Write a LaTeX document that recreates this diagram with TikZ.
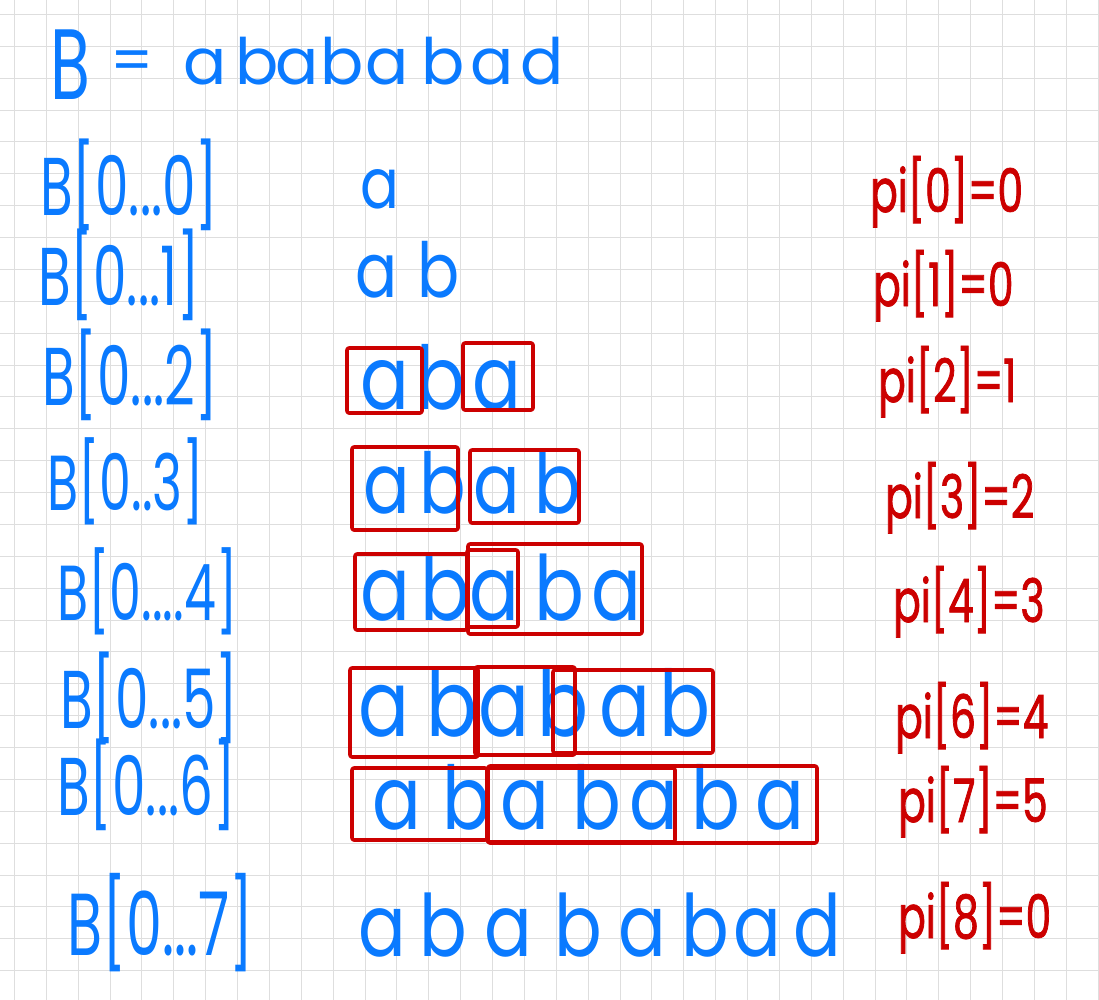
\documentclass[tikz,border=0pt]{standalone}
\usepackage{fontspec}
\newfontfamily\hand{Poppins}
\newfontfamily\handl[FakeStretch=0.82]{Poppins}
\newfontfamily\handn[FakeStretch=0.65]{Poppins}
\newfontfamily\handr[FakeStretch=0.68,FakeBold=1.2]{Poppins}
\definecolor{inkblue}{RGB}{10,122,255}
\definecolor{inkred}{RGB}{204,0,0}
\definecolor{gridc}{RGB}{222,222,222}
\begin{document}
\begin{tikzpicture}[x=1pt,y=-1pt,
  gridline/.style={draw=gridc,line width=1pt},
  lt/.style={anchor=base,inner sep=0pt,text=inkblue},
  lab/.style={anchor=base west,inner sep=0pt,text=inkblue},
  pil/.style={anchor=base west,inner sep=0pt,text=inkred,font=\handr\fontsize{60}{60}\selectfont},
  redbox/.style={draw=inkred,line width=3.6pt,line join=round,rounded corners=2pt}]
\useasboundingbox (0,0) rectangle (1099,1000);
\fill[white] (0,0) rectangle (1099,1000);
% grid
\foreach \i in {0,...,34} \draw[gridline] ({14.5+31.87*\i},0) -- ({14.5+31.87*\i},1000);
\foreach \i in {0,...,31} \draw[gridline] (0,{14.5+31.87*\i}) -- (1099,{14.5+31.87*\i});
% title
\node[lab,font=\handn\fontsize{100}{100}\selectfont,name=tB] at (50,100) {B};
\node[lab,font=\hand\fontsize{60}{60}\selectfont,name=teq] at (110,82) {=};
\foreach \x/\c [count=\k] in {205/a,257/b,297/a,342/b,387/a,443/b,492/a,542/d}
  \node[lt,font=\hand\fontsize{64}{64}\selectfont,name=t\k] at (\x,85) {\c};
% left labels
\node[lab,font=\handn\fontsize{82}{82}\selectfont,name=L0] at (40,216) {B[0...0]};
\node[lab,font=\handn\fontsize{82}{82}\selectfont,name=L1] at (38,305) {B[0...1]};
\node[lab,font=\handn\fontsize{82}{82}\selectfont,name=L2] at (42,405) {B[0...2]};
\node[lab,font=\handn\fontsize{78}{78}\selectfont,name=L3] at (47,510) {B[0..3]};
\node[lab,font=\handn\fontsize{78}{78}\selectfont,name=L4] at (57,620) {B[0....4]};
\node[lab,font=\handn\fontsize{82}{82}\selectfont,name=L5] at (60,728) {B[0...5]};
\node[lab,font=\handn\fontsize{82}{82}\selectfont,name=L6] at (57,815) {B[0...6]};
\node[lab,font=\handn\fontsize{88}{88}\selectfont,name=L7] at (67,955) {B[0...7]};
% rows of letters
\node[lt,font=\handl\fontsize{70}{70}\selectfont,name=r0l1] at (380,209) {a};
\foreach \x/\c [count=\k] in {377/a,439/b}
  \node[lt,font=\handl\fontsize{76}{76}\selectfont,name=r1l\k] at (\x,297) {\c};
\foreach \x/\c [count=\k] in {385/a,441/b,497/a}
  \node[lt,font=\handl\fontsize{88}{88}\selectfont,name=r2l\k] at (\x,409) {\c};
\foreach \x/\c [count=\k] in {387/a,443/b,497/a,558/b}
  \node[lt,font=\handl\fontsize{84}{84}\selectfont,name=r3l\k] at (\x,513) {\c};
\foreach \x/\c [count=\k] in {385/a,445/b,494/a,559/b,616/a}
  \node[lt,font=\handl\fontsize{90}{90}\selectfont,name=r4l\k] at (\x,620) {\c};
\foreach \x/\c [count=\k] in {384/a,452/b,504/a,563/b,625/a,685/b}
  \node[lt,font=\handl\fontsize{92}{92}\selectfont,name=r5l\k] at (\x,736) {\c};
\foreach \x/\c [count=\k] in {397/a,467/b,525/a,597/b,654/a,716/b,780/a}
  \node[lt,font=\handl\fontsize{88}{88}\selectfont,name=r6l\k] at (\x,829) {\c};
\foreach \x/\c [count=\k] in {382/a,443/b,508/a,578/b,642/a,705/b,757/a,817/d}
  \node[lt,font=\handl\fontsize{86}{86}\selectfont,name=r7l\k] at (\x,956) {\c};
% red boxes
\draw[redbox] (347,348) rectangle (422,413);
\draw[redbox] (463,343) rectangle (533,410);
\draw[redbox] (352,447) rectangle (458,530);
\draw[redbox] (470,450) rectangle (579,523);
\draw[redbox] (355,554) rectangle (467,630);
\draw[redbox] (467,550) rectangle (518,627);
\draw[redbox] (468,544) rectangle (642,634);
\draw[redbox] (350,668) rectangle (478,757);
\draw[redbox] (475,667) rectangle (575,755);
\draw[redbox] (553,670) rectangle (713,753);
\draw[redbox] (352,768) rectangle (487,840);
\draw[redbox] (487,768) rectangle (675,842);
\draw[redbox] (488,766) rectangle (817,843);
% pi labels
\node[pil,name=p0] at (870,212) {pi[0]=0};
\node[pil,name=p1] at (873,306) {pi[1]=0};
\node[pil,name=p2] at (878,402) {pi[2]=1};
\node[pil,name=p3] at (885,518) {pi[3]=2};
\node[pil,name=p4] at (893,622) {pi[4]=3};
\node[pil,name=p6] at (895,738) {pi[6]=4};
\node[pil,name=p7] at (898,822) {pi[7]=5};
\node[pil,name=p8] at (898,938) {pi[8]=0};
\end{tikzpicture}
\end{document}
